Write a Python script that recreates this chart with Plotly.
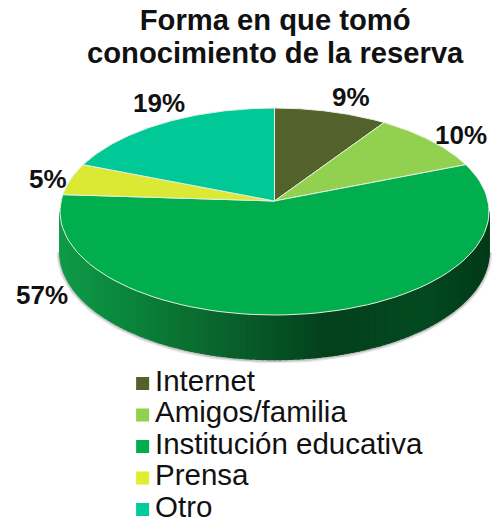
import numpy as np
import plotly.graph_objects as go

categories = ["Internet", "Amigos/familia", "Institución educativa", "Prensa", "Otro"]
shares = [9.4, 9.6, 57, 5, 19]
colors = ["#52622a", "#92d050", "#00ae4d", "#dbe834", "#00c896"]
legend_colors = ["#52622a", "#92d050", "#00ae4d", "#e0ee30", "#00cc99"]

# wall shading, left to right
wall_x = [-1.0, -0.75, -0.35, 0.25, 0.7, 1.0]
wall_rgb = [(15, 154, 72), (10, 138, 62), (10, 107, 48), (3, 64, 28), (3, 74, 32), (2, 58, 24)]

# label nudges in px from the rim point of each slice
label_shift = [(20, 15), (30, 6), (-270, 18), (-23, 0), (-5, 20)]

TILT = 0.1016  # perspective of the disc
DEPTH = 40 / 102.4


def rim(theta):
    w = 1 + TILT * np.cos(theta)
    return np.sin(theta) / w, np.cos(theta) / w


def wall_color(x):
    r, g, b = [np.interp(x, wall_x, [c[i] for c in wall_rgb]) for i in range(3)]
    return f"rgb({r:.0f},{g:.0f},{b:.0f})"


fig = go.Figure()

# soft shadow under the wall
t = np.linspace(np.arccos(-TILT), 2 * np.pi - np.arccos(-TILT), 120)
rx, ry = rim(t)
low = ry - DEPTH / (1 + TILT * np.cos(t))
for width, col in [(7, "rgba(150,150,150,0.25)"), (4, "rgba(130,130,130,0.35)")]:
    fig.add_trace(go.Scatter(x=rx, y=low - 0.004, mode="lines", line=dict(color=col, width=width),
                             showlegend=False, hoverinfo="skip"))

# side wall as thin strips
edges = np.linspace(np.arccos(-TILT), 2 * np.pi - np.arccos(-TILT), 121)
for a, b in zip(edges[:-1], edges[1:]):
    seg = np.linspace(a, b, 3)
    sx, sy = rim(seg)
    lo = sy - DEPTH / (1 + TILT * np.cos(seg))
    col = wall_color(sx.mean())
    fig.add_trace(go.Scatter(
        x=np.r_[sx, sx[::-1], sx[0]], y=np.r_[sy, lo[::-1], sy[0]],
        mode="lines", fill="toself", fillcolor=col, line=dict(color=col, width=1.5),
        showlegend=False, hoverinfo="skip"))

# top of the pie
stops = np.cumsum([0] + shares) / sum(shares) * 2 * np.pi
for i, name in enumerate(categories):
    seg = np.linspace(stops[i], stops[i + 1], 80)
    sx, sy = rim(seg)
    fig.add_trace(go.Scatter(
        x=np.r_[0, sx, 0], y=np.r_[0, sy, 0], mode="lines", fill="toself",
        fillcolor=colors[i], line=dict(color="#e6efe2", width=1),
        name=name, showlegend=False, hoverinfo="skip"))

# legend, drawn on its own category axis so the rows can sit tighter than plotly's legend allows
fig.add_trace(go.Scatter(
    x=[-0.618] * len(categories), y=categories, yaxis="y2", mode="markers",
    marker=dict(symbol="square", size=13, color=legend_colors),
    showlegend=False, hoverinfo="skip"))
fig.add_trace(go.Scatter(
    x=[-0.56] * len(categories), y=categories, yaxis="y2", mode="text",
    text=categories, textposition="middle right",
    textfont=dict(family="Liberation Sans", size=29.5, color="#111111"),
    showlegend=False, hoverinfo="skip"))

# percentage labels
for i, share in enumerate(shares):
    mid = (stops[i] + stops[i + 1]) / 2
    mx, my = rim(mid)
    fig.add_annotation(x=mx, y=my, text=f"{round(share)}%", showarrow=False,
                       xshift=label_shift[i][0], yshift=label_shift[i][1],
                       font=dict(family="Liberation Sans", size=26, color="#111111", weight="bold"))

title_font = dict(family="Liberation Sans", size=29.2, color="#111111", weight="bold")
# second title line sits closer than plotly's own line spacing at this size
fig.add_annotation(text="conocimiento de la reserva", xref="paper", yref="paper",
                   x=0.557, y=1 - 53 / 524, xanchor="center", yanchor="middle",
                   showarrow=False, font=title_font)

fig.update_layout(
    width=494, height=524,
    margin=dict(l=0, r=0, t=0, b=0),
    paper_bgcolor="white", plot_bgcolor="white",
    title=dict(text="Forma en que tomó", x=0.557, xanchor="center", y=1 - 20 / 524,
               yanchor="middle", font=title_font),
    xaxis=dict(range=[-274.5 / 213.4, 219.5 / 213.4], visible=False, fixedrange=True),
    yaxis=dict(range=[-323 / 102.4, 201 / 102.4], visible=False, fixedrange=True),
    yaxis2=dict(domain=[0, 0.3], anchor="x", type="category", categoryorder="array",
                categoryarray=categories, range=[4.46, -0.53], visible=False, fixedrange=True),
    showlegend=False,
)

fig.write_html("out.html", config={"displayModeBar": False},
               post_script="document.body.style.margin='0';")
